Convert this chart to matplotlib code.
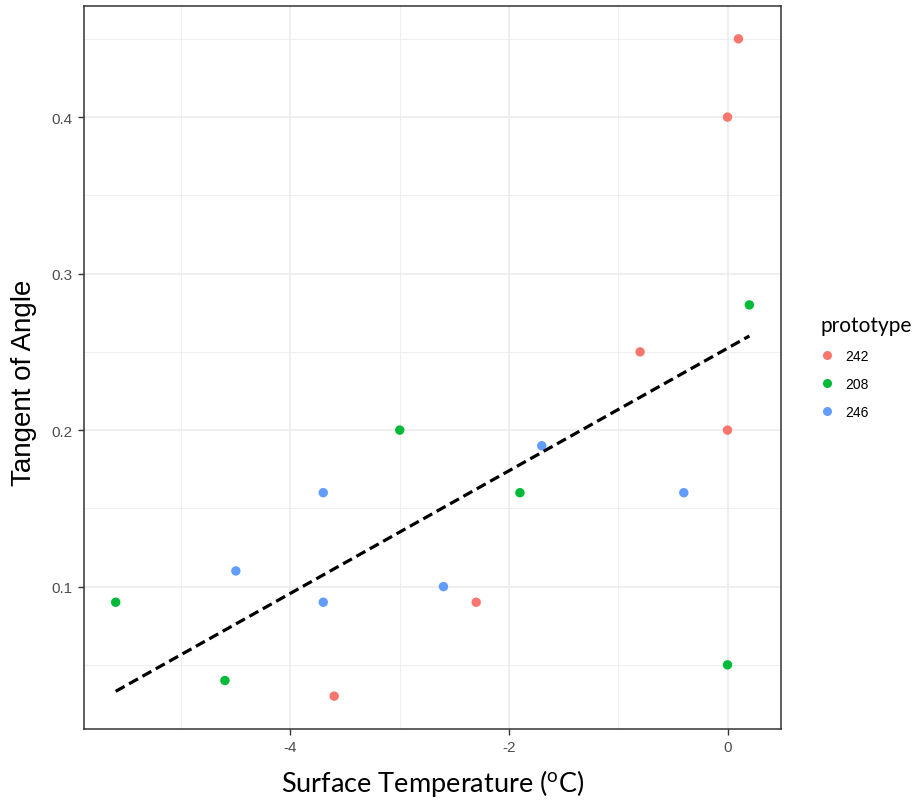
import numpy as np
import matplotlib
matplotlib.use("Agg")
import matplotlib.pyplot as plt
from matplotlib.lines import Line2D
from matplotlib.ticker import MultipleLocator

plt.rcParams["mathtext.fontset"] = "custom"
plt.rcParams["mathtext.rm"] = "Lato"
plt.rcParams["mathtext.it"] = "Lato:italic"

# prototype series: surface temperature (°C) and tangent of angle
groups = ["242", "208", "246"]
colors = ["#F8766D", "#00BA38", "#619CFF"]

temp_242 = [0.1, 0.0, -0.8, 0.0, -2.3, -3.6]
tan_242 = [0.45, 0.40, 0.25, 0.20, 0.09, 0.03]

temp_208 = [0.2, -3.0, -1.9, -5.6, -4.6, 0.0]
tan_208 = [0.28, 0.20, 0.16, 0.09, 0.04, 0.05]

temp_246 = [-1.7, -0.4, -3.7, -4.5, -3.7, -2.6]
tan_246 = [0.19, 0.16, 0.16, 0.11, 0.09, 0.10]

temps = [temp_242, temp_208, temp_246]
tans = [tan_242, tan_208, tan_246]

fig = plt.figure(figsize=(9.18, 8.03), dpi=100)
ax = fig.add_axes([0.0915, 0.0909, 0.7593, 0.9004])

# grid (major and minor) in light grey
ax.set_axisbelow(True)
ax.xaxis.set_major_locator(MultipleLocator(2))
ax.xaxis.set_minor_locator(MultipleLocator(1))
ax.yaxis.set_major_locator(MultipleLocator(0.1))
ax.yaxis.set_minor_locator(MultipleLocator(0.05))
ax.grid(which="major", color="#EBEBEB", linewidth=1.1)
ax.grid(which="minor", color="#EBEBEB", linewidth=0.6)
ax.tick_params(which="minor", length=0)

handles = []
for g, c, xs, ys in zip(groups, colors, temps, tans):
    ax.scatter(xs, ys, s=46, color=c, edgecolors="none", zorder=3)
    handles.append(Line2D([], [], marker="o", linestyle="none", color=c,
                          markersize=6.5, markeredgewidth=0, label=g))

# least-squares fit across all prototypes
all_x = np.concatenate([np.asarray(v) for v in temps])
all_y = np.concatenate([np.asarray(v) for v in tans])
slope, intercept = np.polyfit(all_x, all_y, 1)
xf = np.array([all_x.min(), all_x.max()])
ax.plot(xf, slope * xf + intercept, color="black", linestyle=(0, (3.2, 1.6)),
        linewidth=2.3, zorder=4)

pad_x = 0.05 * (all_x.max() - all_x.min())
pad_y = 0.05 * (all_y.max() - all_y.min())
ax.set_xlim(all_x.min() - pad_x, all_x.max() + pad_x)
ax.set_ylim(all_y.min() - pad_y, all_y.max() + pad_y)
ax.set_xticks([-4, -2, 0])
ax.set_xticklabels(["-4", "-2", "0"])
ax.set_yticks([0.1, 0.2, 0.3, 0.4])
ax.set_yticklabels(["0.1", "0.2", "0.3", "0.4"])

for sp in ax.spines.values():
    sp.set_color("#333333")
    sp.set_linewidth(1.1)
ax.tick_params(which="major", length=4, width=1.0, color="#333333",
               labelcolor="#4D4D4D", labelsize=11, pad=4)
for lbl in ax.get_xticklabels() + ax.get_yticklabels():
    lbl.set_family("Liberation Sans")

ax.set_xlabel(r"Surface Temperature ($^{\mathrm{o}}$C)", family="Lato",
              fontsize=19.5, labelpad=9)
ax.set_ylabel("Tangent of Angle", family="Liberation Sans", fontsize=20)
ax.yaxis.set_label_coords(-0.068, 0.48)

leg = fig.legend(handles=handles, title="prototype", loc="upper left",
                 bbox_to_anchor=(0.88, 0.622), frameon=False,
                 prop={"family": "Liberation Sans", "size": 10},
                 title_fontproperties={"family": "Lato", "size": 15},
                 labelspacing=1.0, handletextpad=0.8, handlelength=1.0)
leg._legend_box.align = "left"

fig.savefig("out.png", dpi=100, facecolor="white")
